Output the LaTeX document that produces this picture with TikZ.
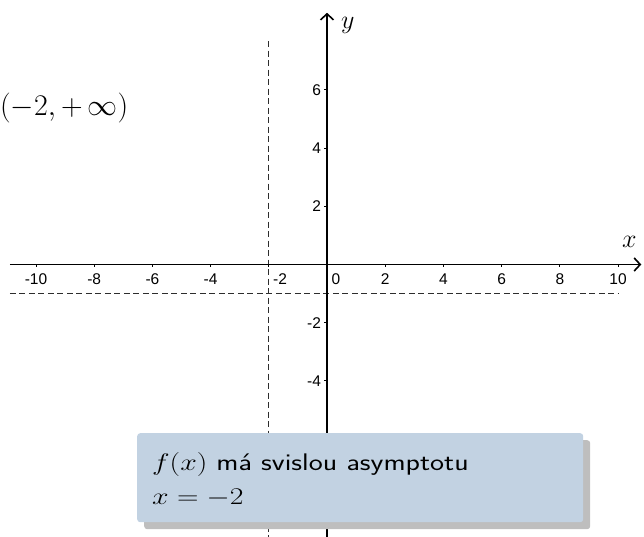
\RequirePackage{fix-cm}
\documentclass[tikz,border=0pt]{standalone}
\usepackage{fontspec}
\newfontfamily\tickfont{Liberation Sans}
\usetikzlibrary{arrows.meta,shadows}
\definecolor{boxblue}{RGB}{194,210,226}
\definecolor{shadowgray}{RGB}{190,190,190}
\definecolor{asymgray}{RGB}{45,45,45}
\begin{document}
\begin{tikzpicture}[x=1pt,y=-1pt,
  axisline/.style={line width=1.3pt, black, -{Straight Barb[length=6pt,width=13pt,line width=1.6pt]}},
  asymline/.style={line width=1.2pt, asymgray, dash pattern=on 6pt off 3.5pt},
  tickmark/.style={line width=1pt, black},
  ticklab/.style={font=\tickfont\fontsize{15.5}{17}\selectfont, inner sep=0pt},
  mathlab/.style={font=\fontsize{26}{30}\selectfont, inner sep=0pt, anchor=base west},
  infobox/.style={fill=boxblue, rounded corners=3pt, inner sep=0pt, anchor=north west,
     minimum width=446pt, minimum height=89pt,
     drop shadow={shadow xshift=7pt, shadow yshift=-7pt, fill=shadowgray, opacity=1}},
  boxtext/.style={font=\fontsize{24}{28}\selectfont, inner sep=0pt, anchor=base west}
]
\useasboundingbox (0,0) rectangle (644,537);
\begin{scope}[shift={(327,264.5)}, x=29.1pt, y=29.1pt]
  % asymptotes
  \coordinate (hL) at (-10.9,-1);
  \coordinate (hR) at (10,-1);
  \coordinate (vT) at (-2,7.68);
  \coordinate (vB) at (-2,-9.4);
  \draw[asymline] (hL) -- (hR);
  \draw[asymline] (vT) -- (vB);
  % axes
  \coordinate (xL) at (-10.9,0);
  \coordinate (xR) at (10.8,0);
  \coordinate (yB) at (0,-9.4);
  \coordinate (yT) at (0,8.65);
  \draw[axisline] (xL) -- (xR);
  \draw[axisline] (yB) -- (yT);
  % x ticks
  \foreach \i in {-10,-8,-6,-4,-2,2,4,6,8,10} {
    \draw[tickmark] (\i,0) -- (\i,-0.1);
  }
  \foreach \i in {-10,-8,-6,-4,2,4,6,8,10} {
    \node[ticklab] (xl\i) at (\i,-0.5) {\i};
  }
  \node[ticklab] (xlm2) at (-1.615,-0.5) {-2};
  \node[ticklab] (xl0) at (0.31,-0.5) {0};
  % y ticks
  \foreach \j in {-4,-2,2,4,6} {
    \draw[tickmark] (0,\j) -- (-0.1,\j);
    \node[ticklab, anchor=east] (yl\j) at (-0.2,\j) {\j};
  }
\end{scope}
% axis names
\node[mathlab] (ylab) at (341,29) {$y$};
\node[mathlab] (xlab) at (622,247) {$x$};
% interval
\node[mathlab, font=\fontsize{30}{34}\selectfont] (interval) at (0,115.5) {$(-2,+\,\infty)$};
% info box
\node[infobox] (box) at (137,433) {};
\node[boxtext] (line1) at (152,470) {\scalebox{1.24}[1]{$f(x)$ \sffamily má svislou asymptotu}};
\node[boxtext] (line2) at (152,504) {\scalebox{1.24}[1]{$x=-2$}};
\end{tikzpicture}
\end{document}
